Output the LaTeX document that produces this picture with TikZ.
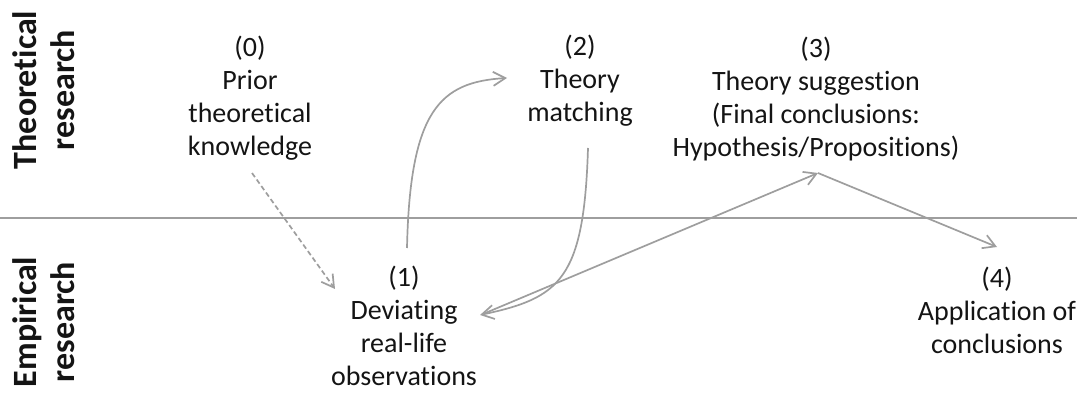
\documentclass[tikz,border=0pt]{standalone}
\usepackage{fontspec}
\setmainfont[RawFeature={-liga;-clig;-calt;-dlig}]{Carlito}
\usetikzlibrary{arrows.meta}
\definecolor{linegray}{RGB}{158,158,158}
\definecolor{txt}{RGB}{20,20,20}
\tikzset{
  lbl/.style={align=center, inner sep=0pt, text=txt, font=\fontsize{28}{33}\selectfont},
  side/.style={align=center, inner sep=0pt, rotate=90, text=txt, font=\fontsize{34}{38}\selectfont\bfseries},
  conn/.style={draw=linegray, line width=1.7pt, -{Straight Barb[angle=60:14pt, line width=1.7pt]}},
}
\begin{document}
\begin{tikzpicture}[x=1pt,y=-1pt]
\useasboundingbox (0,0) rectangle (1077,406);
% separator
\coordinate (sepL) at (0,218);
\coordinate (sepR) at (1077,218);
\draw[linegray, line width=1.7pt] (sepL) -- (sepR);
% side labels
\node[side] (theo) at (44,90) {Theoretical\\research};
\node[side] (emp) at (44,322) {Empirical\\research};
% steps
\node[lbl] (n0) at (250,98) {(0)\\Prior\\theoretical\\knowledge};
\node[lbl] (n1) at (404,326) {(1)\\Deviat\kern0pt ing\\real-life\\observat\kern0pt ions};
\node[lbl] (n2) at (580,81) {(2)\\Theory\\matching};
\node[lbl] (n3) at (816,99) {(3)\\Theory suggest\kern0pt ion\\(Final conclusions:\\Hypothesis/Proposit\kern0pt ions)};
\node[lbl] (n4) at (997,310) {(4)\\Applicat\kern0pt ion of\\conclusions};
% connector end points
\coordinate (a0s) at (252,173);
\coordinate (a0e) at (335,289);
\coordinate (a1s) at (407,248);
\coordinate (a1e) at (507,78);
\coordinate (a2s) at (588,148);
\coordinate (a2e) at (480,315);
\coordinate (a3s) at (483,314);
\coordinate (a3e) at (818,173);
\coordinate (a4e) at (997,247);
% connectors
\draw[conn, dashed, dash pattern=on 5pt off 3pt] (a0s) -- (a0e);
\draw[conn] (a1s) .. controls (410,110) and (440,82) .. (a1e);
\draw[conn] (a2s) .. controls (584,280) and (560,298) .. (a2e);
\draw[conn] (a3s) -- (a3e);
\draw[conn] (a3e) -- (a4e);
\end{tikzpicture}
\end{document}
